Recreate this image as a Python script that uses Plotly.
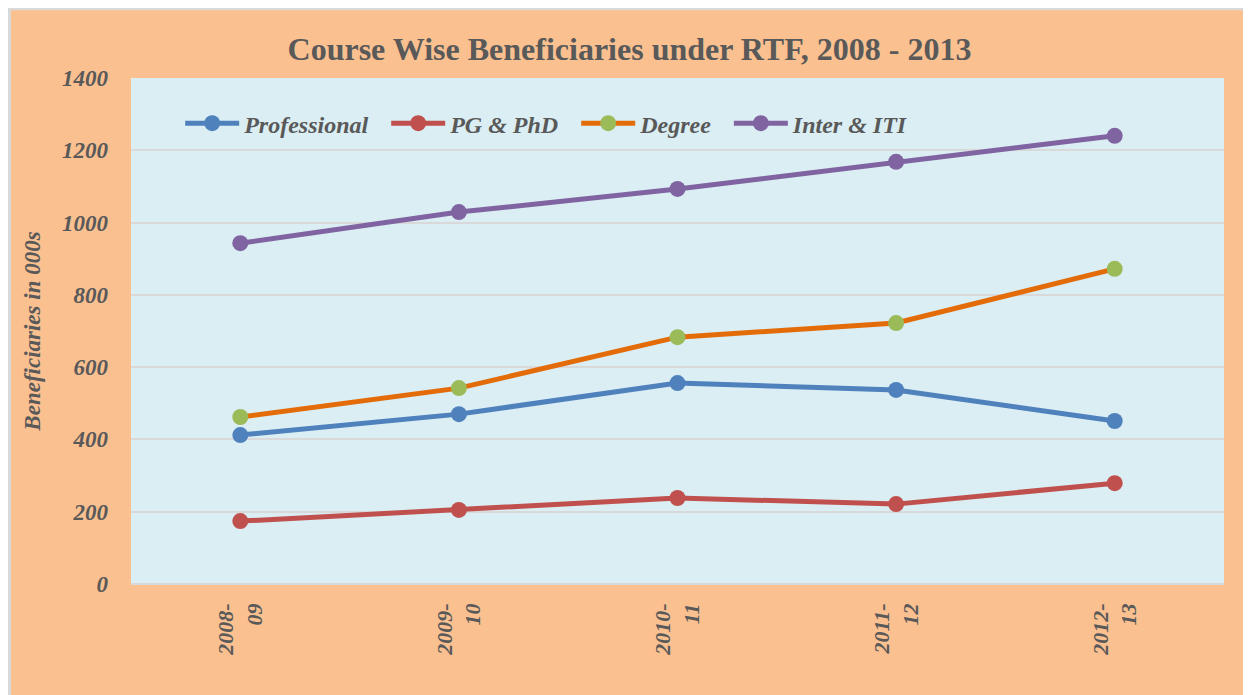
import plotly.graph_objects as go

years = ["2008-<br>09", "2009-<br>10", "2010-<br>11", "2011-<br>12", "2012-<br>13"]
professional = [412, 470, 556, 537, 451]
pg_phd = [174, 205, 238, 221, 279]
degree = [462, 542, 683, 722, 872]
inter_iti = [943, 1029, 1093, 1168, 1240]
y_ticks = [0, 200, 400, 600, 800, 1000, 1200, 1400]

PEACH = "#FAC090"
PLOT_BG = "#DAEEF3"
TEXT = "#595959"
FONT = "Liberation Serif"
PAD = "\u00a0\u00a0"

series = [
    ("Professional", professional, "#4F81BD", "#4F81BD"),
    ("PG & PhD", pg_phd, "#C0504D", "#C0504D"),
    ("Degree", degree, "#E36C09", "#9BBB59"),
    ("Inter & ITI", inter_iti, "#8064A2", "#8064A2"),
]

fig = go.Figure()
for name, vals, line_c, mark_c in series:
    fig.add_trace(go.Scatter(
        x=years, y=vals, name=name + PAD, mode="lines+markers",
        line=dict(color=line_c, width=5),
        marker=dict(color=mark_c, size=16),
    ))

# thin grey border along the top and left of the peach chart area
for x0, y0, x1, y1 in [
    (-0.115, 1.134, 1.03, 1.145),
    (-0.115, -0.23, -0.1098, 1.145),
]:
    fig.add_shape(type="rect", xref="paper", yref="paper",
                  x0=x0, y0=y0, x1=x1, y1=y1,
                  fillcolor="#D9D9D9", line=dict(width=0), layer="above")

fig.update_xaxes(
    type="category", range=[-0.5, 4.5], tickangle=-90,
    showgrid=False, showline=False,
    tickfont=dict(family=FONT, size=22, color=TEXT, weight="bold", style="italic"),
    ticklabelstandoff=14,
)
fig.update_yaxes(
    range=[0, 1400], tickvals=y_ticks, showgrid=True,
    gridcolor="#D9D9D9", gridwidth=2, zeroline=True, zerolinecolor="#D9D9D9",
    zerolinewidth=2,
    tickfont=dict(family=FONT, size=23, color=TEXT, weight="bold", style="italic"),
    ticklabelstandoff=22,
    title=dict(text="Beneficiaries in 000s", standoff=14,
               font=dict(family=FONT, size=23, color=TEXT, weight="bold",
                         style="italic")),
)
fig.update_layout(
    width=1243, height=687,
    margin=dict(l=123, r=27, t=70, b=111),
    paper_bgcolor=PEACH, plot_bgcolor=PLOT_BG,
    title=dict(text="<b>Course Wise Beneficiaries under RTF, 2008 - 2013</b>",
               x=0.5, xanchor="center", y=0.94, yanchor="middle",
               font=dict(family=FONT, size=32, color=TEXT)),
    legend=dict(orientation="h", x=0.045, y=0.91, yanchor="middle",
                itemwidth=54, bgcolor="rgba(0,0,0,0)",
                font=dict(family=FONT, size=24, color=TEXT, weight="bold",
                          style="italic")),
)

fig.write_html("out.html")
